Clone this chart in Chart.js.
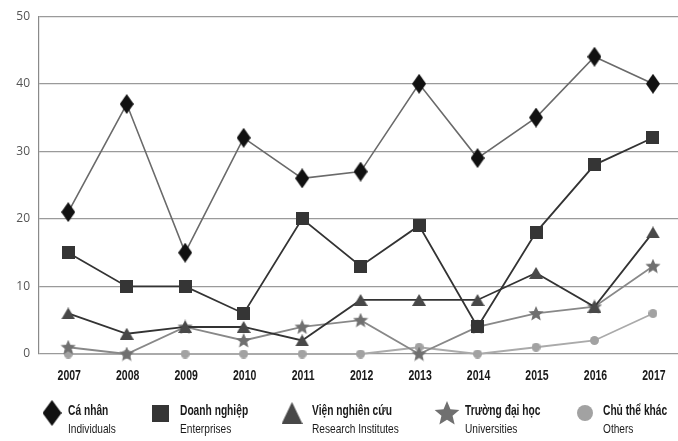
<!DOCTYPE html>
<html>
<head>
<meta charset="utf-8">
<script src="https://cdn.jsdelivr.net/npm/chart.js@4"></script>
<style>
  html, body { margin: 0; padding: 0; background: #fff; overflow: hidden; }
</style>
</head>
<body>
<canvas id="chart" width="688" height="441"></canvas>
<script>
// data
const years = ['2007', '2008', '2009', '2010', '2011', '2012', '2013', '2014', '2015', '2016', '2017'];
const caNhan = [21, 37, 15, 32, 26, 27, 40, 29, 35, 44, 40];
const doanhNghiep = [15, 10, 10, 6, 20, 13, 19, 4, 18, 28, 32];
const vienNghienCuu = [6, 3, 4, 4, 2, 8, 8, 8, 12, 7, 18];
const truongDaiHoc = [1, 0, 4, 2, 4, 5, 0, 4, 6, 7, 13];
const chuTheKhac = [0, 0, 0, 0, 0, 0, 1, 0, 1, 2, 6];
const yTicks = [0, 10, 20, 30, 40, 50];

const seriesNames = ['Cá nhân', 'Doanh nghiệp', 'Viện nghiên cứu', 'Trường đại học', 'Chủ thể khác'];
const seriesNamesEn = ['Individuals', 'Enterprises', 'Research Institutes', 'Universities', 'Others'];

// small canvases used as point markers
function marker(shape, w, h, color) {
    const c = document.createElement('canvas');
    c.width = w;
    c.height = h;
    const g = c.getContext('2d');
    g.fillStyle = color;
    g.beginPath();
    if (shape === 'diamond') {
        g.moveTo(w / 2, 0);
        g.lineTo(w, h / 2);
        g.lineTo(w / 2, h);
        g.lineTo(0, h / 2);
    } else if (shape === 'square') {
        g.rect(0, 0, w, h);
    } else if (shape === 'triangle') {
        g.moveTo(w / 2, 0);
        g.lineTo(w, h);
        g.lineTo(0, h);
    } else if (shape === 'star') {
        const R = w / 2, r = R * 0.45;
        for (let i = 0; i < 10; i++) {
            const rad = i % 2 === 0 ? R : r;
            const a = -Math.PI / 2 + i * Math.PI / 5;
            const x = w / 2 + rad * Math.cos(a);
            const y = R + rad * Math.sin(a);
            if (i === 0) g.moveTo(x, y); else g.lineTo(x, y);
        }
    } else {
        g.arc(w / 2, h / 2, w / 2, 0, Math.PI * 2);
    }
    g.closePath();
    g.fill();
    return c;
}

const colors = ['#111111', '#353535', '#484848', '#707070', '#a2a2a2'];
const lineColors = ['#6a6a6a', '#333333', '#333333', '#888888', '#aaaaaa'];
const pointImgs = [
    marker('diamond', 14, 20, colors[0]),
    marker('square', 13, 13, colors[1]),
    marker('triangle', 14, 12, colors[2]),
    marker('star', 16, 15, colors[3]),
    marker('circle', 9, 9, colors[4])
];
const legendImgs = [
    marker('diamond', 19, 26, colors[0]),
    marker('square', 17, 17, colors[1]),
    marker('triangle', 21, 22, colors[2]),
    marker('star', 26, 24, colors[3]),
    marker('circle', 16, 16, colors[4])
];
const legendMarkX = [52, 160, 292, 447, 585];
const legendTextX = [68, 180, 312, 465, 603];

// condensed text: draw with a horizontal squeeze
function narrowText(ctx, text, x, y, font, squeeze, align) {
    ctx.save();
    ctx.font = font;
    ctx.textAlign = align || 'left';
    ctx.translate(x, y);
    ctx.scale(squeeze, 1);
    ctx.fillText(text, 0, 0);
    ctx.restore();
}

const textPlugin = {
    id: 'textBelow',
    afterDraw(chart) {
        const ctx = chart.ctx;
        const xs = chart.scales.x;
        ctx.save();
        ctx.textBaseline = 'middle';
        ctx.fillStyle = '#1a1a1a';
        years.forEach((yr, i) => {
            narrowText(ctx, yr, xs.getPixelForTick(i) + 1, 376, 'bold 14px "Liberation Sans", Arial, sans-serif', 0.75, 'center');
        });
        for (let i = 0; i < seriesNames.length; i++) {
            const img = legendImgs[i];
            ctx.drawImage(img, legendMarkX[i] - img.width / 2, 413 - img.height / 2);
            narrowText(ctx, seriesNames[i], legendTextX[i], 411, 'bold 14px "Liberation Sans", Arial, sans-serif', 0.73);
            narrowText(ctx, seriesNamesEn[i], legendTextX[i], 429, '13px "Liberation Sans", Arial, sans-serif', 0.78);
        }
        ctx.restore();
    }
};

const allData = [caNhan, doanhNghiep, vienNghienCuu, truongDaiHoc, chuTheKhac];
const datasets = allData.map((d, i) => ({
    label: seriesNames[i],
    data: d,
    borderColor: lineColors[i],
    borderWidth: i === 0 ? 1.6 : 1.8,
    pointStyle: pointImgs[i],
    tension: 0,
    fill: false,
    clip: false
}));

new Chart(document.getElementById('chart').getContext('2d'), {
    type: 'line',
    data: { labels: years, datasets: datasets },
    options: {
        responsive: false,
        animation: false,
        events: [],
        layout: { padding: { top: 16, right: 0, bottom: 0, left: 0 } },
        plugins: { legend: { display: false }, tooltip: { enabled: false } },
        scales: {
            x: {
                offset: true,
                grid: { display: false, drawTicks: false },
                border: { display: false },
                ticks: { display: false },
                afterFit(scale) { scale.height = 87; }
            },
            y: {
                min: 0,
                max: 50,
                afterBuildTicks(scale) { scale.ticks = yTicks.map(v => ({ value: v })); },
                grid: { color: '#9a9a9a', lineWidth: 1.2, drawTicks: false },
                border: { display: true, color: '#8a8a8a', width: 1.2 },
                ticks: {
                    padding: 9,
                    color: '#555',
                    font: { family: '"Open Sans", sans-serif', size: 12 }
                },
                afterFit(scale) { scale.width = 39; }
            }
        }
    },
    plugins: [textPlugin]
});
</script>
</body>
</html>
